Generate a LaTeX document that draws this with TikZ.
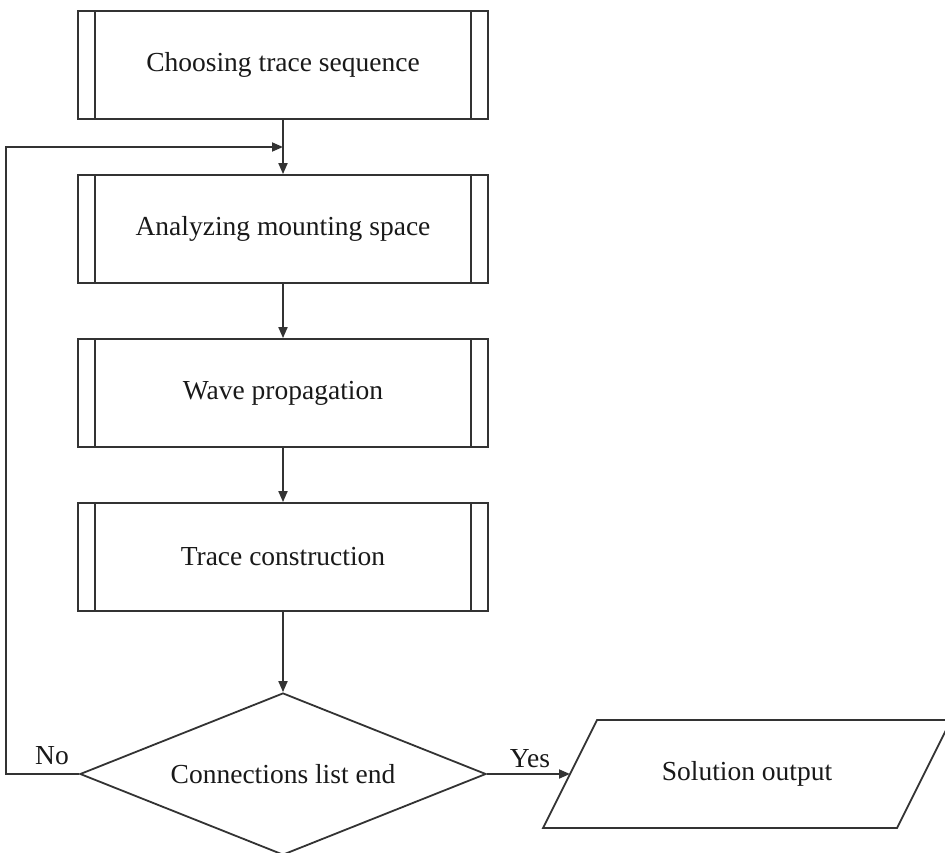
\documentclass[tikz,border=0pt]{standalone}
\usepackage{fontspec}
\setmainfont{Liberation Serif}
\usetikzlibrary{arrows.meta,shapes.geometric}
\begin{document}
\begin{tikzpicture}[x=1pt,y=-1pt,
  line width=1.8pt,
  every node/.style={font=\fontsize{27.5}{33}\selectfont, text=black!90},
  procbox/.style={draw=black!80, rectangle, minimum width=410pt, minimum height=108pt, inner sep=0pt,
    path picture={\draw[line width=1.8pt, draw=black!80]
      ([xshift=17pt]path picture bounding box.north west) -- ([xshift=17pt]path picture bounding box.south west)
      ([xshift=-17pt]path picture bounding box.north east) -- ([xshift=-17pt]path picture bounding box.south east);}},
  decision/.style={draw=black!80, diamond, aspect=2.5, minimum width=406pt, minimum height=162pt, inner sep=0pt},
  iotext/.style={inner sep=0pt},
  ioshape/.style={draw=black!80, line join=miter},
  conn/.style={draw=black!80, -{Triangle[length=11pt,width=9pt]}},
  lbl/.style={anchor=base, inner sep=0pt}
]
\useasboundingbox (0,0) rectangle (945,853);
\fill[white] (0,0) rectangle (945,853);

\node[procbox] (b1) at (283,65) {Choosing trace sequence};
\node[procbox] (b2) at (283,229) {Analyzing mounting space};
\node[procbox] (b3) at (283,393) {Wave propagation};
\node[procbox] (b4) at (283,557) {Trace construction};
\node[decision] (d) at (283,774) {Connections list end};

% Solution output (parallelogram)
\draw[ioshape] (543,828) -- (597,720) -- (951,720) -- (897,828) -- cycle;
\node[iotext] (o) at (747,774) {Solution output};
\coordinate (oW) at (570,774);

\node[lbl] (no) at (52,764) {No};
\node[lbl] (yes) at (530,767) {Yes};

\coordinate (fb) at (283,147);

\draw[conn] (b1) -- (b2);
\draw[conn] (b2) -- (b3);
\draw[conn] (b3) -- (b4);
\draw[conn] (b4) -- (d);
\draw[conn] (d.west) -- ++(-73,0) |- (fb);
\draw[conn] (d.east) -- (oW);
\end{tikzpicture}
\end{document}
